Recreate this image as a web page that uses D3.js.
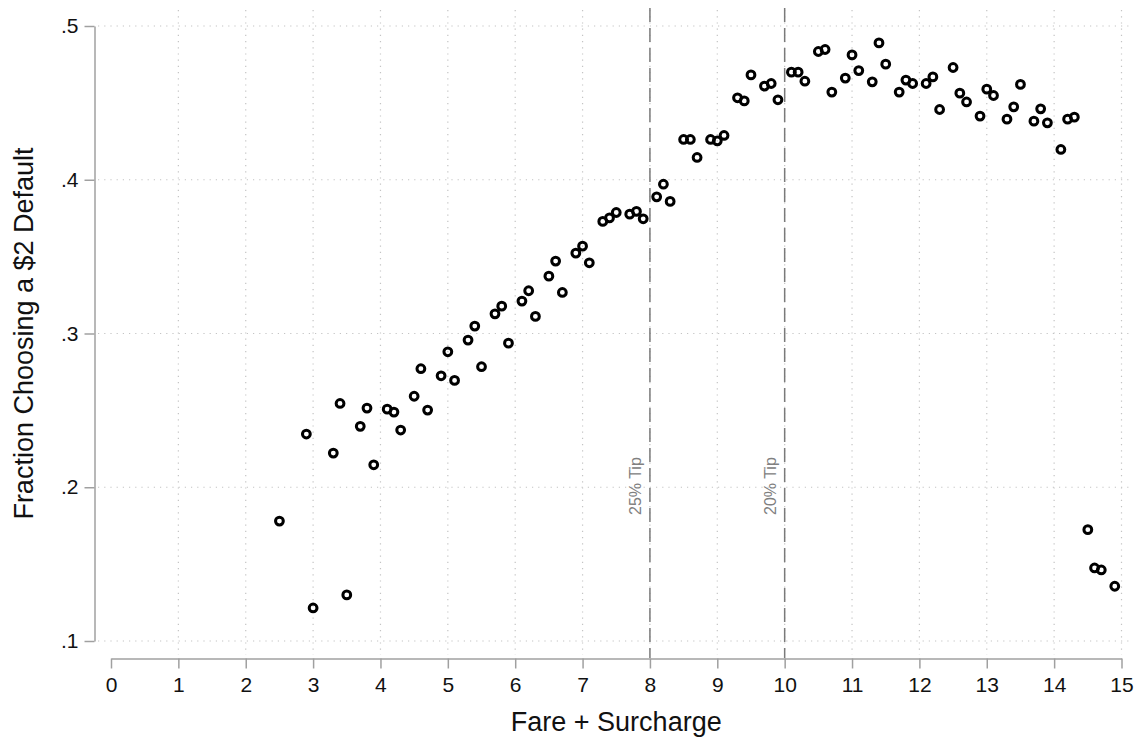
<!DOCTYPE html>
<html>
<head>
<meta charset="utf-8">
<script src="https://cdn.jsdelivr.net/npm/d3@7"></script>
<style>
  html, body { margin: 0; padding: 0; background: #fff; }
  svg { display: block; font-family: "Liberation Sans", Arial, Helvetica, sans-serif; }
</style>
</head>
<body>
<svg id="chart" width="1139" height="740"></svg>
<script>
// Fare + Surcharge (x) values
const fares = [
  2.5, 2.9, 3.0, 3.3, 3.4, 3.5, 3.7, 3.8, 3.9,
  4.1, 4.2, 4.3, 4.5, 4.6, 4.7, 4.9, 5.0, 5.1,
  5.3, 5.4, 5.5, 5.7, 5.8, 5.9, 6.1, 6.2, 6.3,
  6.5, 6.6, 6.7, 6.9, 7.0, 7.1, 7.3, 7.4, 7.5,
  7.7, 7.8, 7.9, 8.1, 8.2, 8.3, 8.5, 8.6, 8.7,
  8.9, 9.0, 9.1, 9.3, 9.4, 9.5, 9.7, 9.8, 9.9,
  10.1, 10.2, 10.3, 10.5, 10.6, 10.7, 10.9, 11.0, 11.1,
  11.3, 11.4, 11.5, 11.7, 11.8, 11.9, 12.1, 12.2, 12.3,
  12.5, 12.6, 12.7, 12.9, 13.0, 13.1, 13.3, 13.4, 13.5,
  13.7, 13.8, 13.9, 14.1, 14.2, 14.3, 14.5, 14.6, 14.7, 14.9
];
// Fraction choosing a $2 default (y) values
const fractions = [
  0.178, 0.2346, 0.1215, 0.2222, 0.2545, 0.130, 0.2396, 0.2515, 0.2146,
  0.2508, 0.2489, 0.2372, 0.2592, 0.2771, 0.2502, 0.2725, 0.2881, 0.2695,
  0.2957, 0.3048, 0.2784, 0.3128, 0.3178, 0.2937, 0.3211, 0.3278, 0.3111,
  0.3373, 0.3471, 0.3267, 0.3523, 0.3568, 0.3460, 0.3729, 0.3752, 0.3787,
  0.3776, 0.3794, 0.3746, 0.3889, 0.3971, 0.3859, 0.4262, 0.4262, 0.4145,
  0.4262, 0.4253, 0.4288, 0.4533, 0.4513, 0.4682, 0.4609, 0.4626, 0.4520,
  0.4700, 0.4700, 0.4641, 0.4834, 0.4847, 0.4570, 0.4661, 0.4812, 0.4710,
  0.4637, 0.4890, 0.4752, 0.4570, 0.4648, 0.4626, 0.4626, 0.4669, 0.4457,
  0.4730, 0.4563, 0.4506, 0.4414, 0.4589, 0.4548, 0.4394, 0.4474, 0.4620,
  0.4381, 0.4461, 0.4370, 0.4197, 0.4394, 0.4407, 0.1724, 0.1475, 0.1462, 0.1356
];
const xTicks = [0,1,2,3,4,5,6,7,8,9,10,11,12,13,14,15];
const yTicks = [0.1, 0.2, 0.3, 0.4, 0.5];
const refLines = [8, 10];
const refLabels = ["25% Tip", "20% Tip"];
const xTitle = "Fare + Surcharge";
const yTitle = "Fraction Choosing a $2 Default";

const svg = d3.select("#chart");
const x = d3.scaleLinear().domain([0, 15]).range([111, 1121.5]);
const y = d3.scaleLinear().domain([0.1, 0.5]).range([641, 26]);

const plotLeft = 98, plotRight = 1130, plotTop = 10, plotBottom = 655;
const gridColor = "#c4c4c4";
const axisColor = "#a0a0a0";

// Horizontal gridlines
svg.append("g").selectAll("line").data(yTicks).join("line")
  .attr("x1", plotLeft).attr("x2", plotRight)
  .attr("y1", d => y(d)).attr("y2", d => y(d))
  .attr("stroke", gridColor).attr("stroke-width", 1.2)
  .attr("stroke-dasharray", "1.2,5");

// Vertical gridlines
svg.append("g").selectAll("line").data(xTicks.filter(d => d > 0)).join("line")
  .attr("x1", d => x(d)).attr("x2", d => x(d))
  .attr("y1", plotTop).attr("y2", plotBottom)
  .attr("stroke", gridColor).attr("stroke-width", 1.2)
  .attr("stroke-dasharray", "1.2,5");

// Reference dashed lines
svg.append("g").selectAll("line").data(refLines).join("line")
  .attr("x1", d => x(d)).attr("x2", d => x(d))
  .attr("y1", 8).attr("y2", 658)
  .attr("stroke", "#7a7a7a").attr("stroke-width", 1.5)
  .attr("stroke-dasharray", "14,6");

// Reference labels
svg.append("g").selectAll("text").data(refLines).join("text")
  .attr("transform", d => `translate(${x(d) - 9},515) rotate(-90)`)
  .attr("text-anchor", "start")
  .attr("font-size", 16)
  .attr("fill", "#808080")
  .text((d, i) => refLabels[i]);

// Y axis
const yAxis = d3.axisLeft(y).tickValues(yTicks)
  .tickFormat(d => d3.format(".1f")(d).replace(/^0/, ""))
  .tickSize(10).tickSizeOuter(0).tickPadding(6);
const gy = svg.append("g").attr("transform", "translate(94.5,0)").call(yAxis);
gy.attr("font-size", null).attr("font-family", null);
gy.select(".domain").attr("stroke", axisColor).attr("stroke-width", 1.5);
gy.selectAll(".tick line").attr("stroke", axisColor).attr("stroke-width", 1.5);
gy.selectAll(".tick text").style("font-size", "21px").attr("fill", "#111")
  .style("font-family", "Liberation Sans, Arial, sans-serif");

// X axis
const xAxis = d3.axisBottom(x).tickValues(xTicks).tickFormat(d3.format("d"))
  .tickSize(10).tickSizeOuter(0).tickPadding(9);
const gx = svg.append("g").attr("transform", "translate(0,658.5)").call(xAxis);
gx.attr("font-size", null).attr("font-family", null);
gx.select(".domain").attr("stroke", axisColor).attr("stroke-width", 1.5);
gx.selectAll(".tick line").attr("stroke", axisColor).attr("stroke-width", 1.5);
gx.selectAll(".tick text").style("font-size", "21px").attr("fill", "#111")
  .style("font-family", "Liberation Sans, Arial, sans-serif");

// Axis titles
svg.append("text")
  .attr("x", (x(0) + x(15)) / 2).attr("y", 731)
  .attr("text-anchor", "middle").attr("font-size", 27).attr("fill", "#111")
  .text(xTitle);
svg.append("text")
  .attr("transform", `translate(33,${(y(0.1) + y(0.5)) / 2}) rotate(-90)`)
  .attr("text-anchor", "middle").attr("font-size", 27).attr("fill", "#111")
  .text(yTitle);

// Points
const pts = fares.map((f, i) => ({ f, v: fractions[i] }));
svg.append("g").selectAll("circle").data(pts).join("circle")
  .attr("cx", d => x(d.f)).attr("cy", d => y(d.v))
  .attr("r", 3.9)
  .attr("fill", "none")
  .attr("stroke", "#000")
  .attr("stroke-width", 3);
</script>
</body>
</html>
